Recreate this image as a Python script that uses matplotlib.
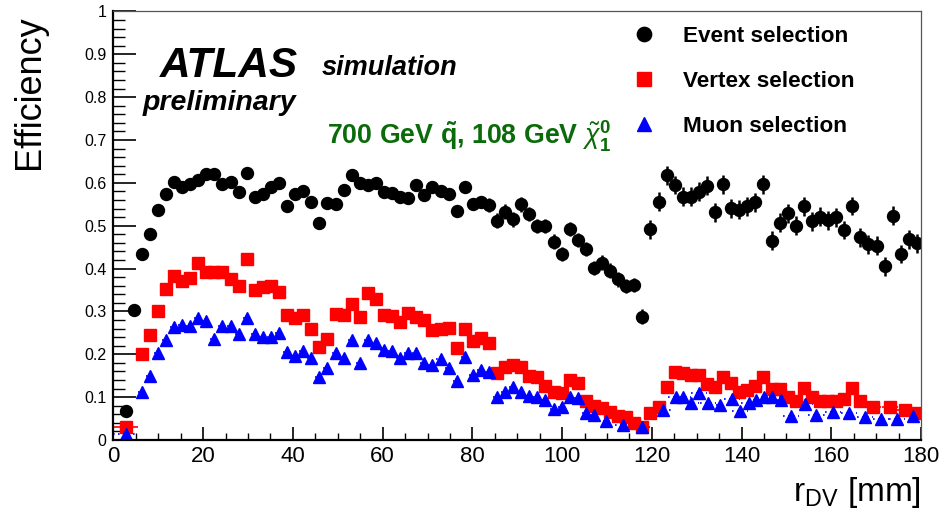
import numpy as np
import matplotlib.pyplot as plt
from matplotlib.ticker import MultipleLocator

plt.rcParams['font.family'] = ['Liberation Sans', 'DejaVu Sans']
plt.rcParams['mathtext.fontset'] = 'custom'
plt.rcParams['mathtext.rm'] = 'Liberation Sans'
plt.rcParams['mathtext.it'] = 'Liberation Sans:italic'
plt.rcParams['mathtext.bf'] = 'Liberation Sans:bold'

# 1.8 mm bins, the first bin (0-1.8 mm) is empty
r_bins = 0.9 + 1.8 * np.arange(1, 100)

eff_event = [0.068, 0.303, 0.434, 0.481, 0.537, 0.574, 0.601, 0.591, 0.597, 0.607,
             0.621, 0.621, 0.597, 0.603, 0.578, 0.624, 0.568, 0.573, 0.591, 0.599,
             0.547, 0.574, 0.582, 0.556, 0.506, 0.552, 0.551, 0.583, 0.618, 0.599,
             0.595, 0.600, 0.579, 0.576, 0.568, 0.564, 0.595, 0.572, 0.591, 0.582,
             0.574, 0.535, 0.591, 0.551, 0.556, 0.548, 0.512, 0.533, 0.515, 0.550,
             0.527, 0.499, 0.499, 0.463, 0.434, 0.492, 0.467, 0.446, 0.401, 0.414,
             0.395, 0.375, 0.359, 0.362, 0.288, 0.492, 0.556, 0.618, 0.595, 0.568,
             0.568, 0.579, 0.593, 0.531, 0.597, 0.541, 0.537, 0.545, 0.555, 0.597,
             0.465, 0.507, 0.529, 0.500, 0.545, 0.510, 0.521, 0.513, 0.520, 0.490,
             0.546, 0.473, 0.457, 0.453, 0.405, 0.523, 0.434, 0.468, 0.459]
# rough statistical errors (small in the dense region, larger at large radius)
err_event = [0.012] * 45 + [0.017] * 20 + [0.022] * 34

# vertex selection: first 92 bins, then merged bins at the end
eff_vertex = [0.031, np.nan, 0.201, 0.245, 0.301, 0.352, 0.383, 0.371, 0.379, 0.414,
              0.391, 0.393, 0.391, 0.375, 0.359, 0.422, 0.350, 0.356, 0.359, 0.346,
              0.292, 0.284, 0.292, 0.258, 0.218, 0.235, 0.294, 0.292, 0.317, 0.288,
              0.342, 0.328, 0.292, 0.290, 0.276, 0.296, 0.288, 0.280, 0.257, 0.258,
              0.261, 0.214, 0.258, 0.232, 0.237, 0.226, 0.157, 0.170, 0.175, 0.171,
              0.150, 0.148, 0.126, 0.111, 0.110, 0.141, 0.132, 0.090, 0.080, 0.075,
              0.066, 0.056, 0.054, 0.040, 0.031, 0.062, 0.076, 0.124, 0.159, 0.157,
              0.152, 0.152, 0.131, 0.124, 0.148, 0.132, 0.113, 0.117, 0.126, 0.148,
              0.118, 0.118, 0.101, 0.092, 0.121, 0.101, 0.092, 0.092, 0.092, 0.095,
              0.121, 0.092]
r_vertex_tail = [169.3, 173.1, 176.5, 179.4]
eff_vertex_tail = [0.078, 0.078, 0.070, 0.062]

# muon selection: first 59 bins, then coarser bins
eff_muon = [0.014, np.nan, 0.113, 0.150, 0.204, 0.233, 0.264, 0.268, 0.266, 0.284,
            0.278, 0.235, 0.266, 0.266, 0.247, 0.285, 0.247, 0.241, 0.241, 0.250,
            0.206, 0.196, 0.208, 0.191, 0.146, 0.167, 0.202, 0.191, 0.233, 0.180,
            0.233, 0.227, 0.210, 0.208, 0.191, 0.204, 0.202, 0.179, 0.175, 0.188,
            0.167, 0.138, 0.193, 0.152, 0.163, 0.159, 0.101, 0.113, 0.123, 0.112,
            0.103, 0.100, 0.093, 0.072, 0.078, 0.100, 0.097, 0.062, 0.058]
r_muon_tail = [109.8, 113.5, 117.9, 122.4, 125.3, 126.9, 128.8, 130.6, 132.5, 135.1,
               137.9, 139.7, 141.6, 143.2, 145.1, 146.9, 148.7, 151.1, 154.1, 156.7,
               160.3, 164.0, 167.6, 171.1, 174.7, 178.3]
eff_muon_tail = [0.045, 0.035, 0.030, 0.070, 0.101, 0.100, 0.087, 0.109, 0.086, 0.082,
                 0.095, 0.068, 0.086, 0.093, 0.100, 0.100, 0.093, 0.057, 0.084, 0.058,
                 0.066, 0.064, 0.053, 0.048, 0.048, 0.056]

x_ticks = [0, 20, 40, 60, 80, 100, 120, 140, 160, 180]
y_ticks = [0, 0.1, 0.2, 0.3, 0.4, 0.5, 0.6, 0.7, 0.8, 0.9, 1]

r_vertex = np.r_[r_bins[:len(eff_vertex)], r_vertex_tail]
y_vertex = np.r_[eff_vertex, eff_vertex_tail]
xerr_vertex = np.r_[2.7, [0.9] * (len(eff_vertex) - 1), [1.8] * len(r_vertex_tail)]

r_muon = np.r_[r_bins[:len(eff_muon)], r_muon_tail]
y_muon = np.r_[eff_muon, eff_muon_tail]
xerr_muon = np.r_[2.7, [0.9] * (len(eff_muon) - 1), [1.8] * len(r_muon_tail)]

fig = plt.figure(figsize=(9.41, 5.22), dpi=100)
ax = fig.add_axes([0.1206, 0.1571, 0.8581, 0.8209])

red = '#ff0000'
blue = '#0000ff'

# error bars
ax.errorbar(r_bins, eff_event, yerr=err_event, fmt='none', ecolor='black',
            elinewidth=1.8, capsize=0)
ax.errorbar(r_vertex, y_vertex, xerr=xerr_vertex, fmt='none', ecolor=red,
            elinewidth=1.2, capsize=0)
eb = ax.errorbar(r_muon, y_muon, xerr=xerr_muon, fmt='none', ecolor=blue,
                 elinewidth=1.2, capsize=0)
eb[2][0].set_linestyle((0, (1, 2)))

# markers
ax.plot(r_bins, eff_event, 'o', ms=8.6, color='black', label='Event selection')
ax.plot(r_vertex, y_vertex, 's', ms=8.4, color=red, label='Vertex selection')
ax.plot(r_muon, y_muon, '^', ms=8.6, color=blue, label='Muon selection')

ax.set_xlim(0, 180)
ax.set_ylim(0, 1)
ax.set_xticks(x_ticks)
ax.set_xticklabels([str(v) for v in x_ticks], fontsize=16)
ax.set_yticks(y_ticks)
ax.set_yticklabels(['%g' % v for v in y_ticks], fontsize=11.5)
ax.xaxis.set_minor_locator(MultipleLocator(5))
ax.yaxis.set_minor_locator(MultipleLocator(0.02))
ax.tick_params(axis='both', which='both', direction='in', top=False, right=False,
               color='black')
ax.tick_params(axis='y', which='major', length=16.5, width=1.2, pad=5)
ax.tick_params(axis='y', which='minor', length=8.6, width=1.0)
ax.tick_params(axis='x', which='major', length=9.4, width=1.2, pad=4)
ax.tick_params(axis='x', which='minor', length=5, width=1.0)

for side in ['left', 'bottom']:
    ax.spines[side].set_linewidth(1.6)
    ax.spines[side].set_color('black')
for side in ['top', 'right']:
    ax.spines[side].set_linewidth(0.9)
    ax.spines[side].set_color('#555555')

ax.set_ylabel('Efficiency', fontsize=26, loc='top')
ax.yaxis.set_label_coords(-0.082, 0.992)
ax.set_xlabel(r'r$_{\mathrm{DV}}$ [mm]', fontsize=24, loc='right')
ax.xaxis.set_label_coords(1.0, -0.082)

ax.text(0.0576, 0.847, 'ATLAS', transform=ax.transAxes, fontsize=30.5,
        fontweight='bold', fontstyle='italic', va='baseline')
ax.text(0.258, 0.852, 'simulation', transform=ax.transAxes, fontsize=19.5,
        fontweight='bold', fontstyle='italic', va='baseline')
ax.text(0.0365, 0.770, 'preliminary', transform=ax.transAxes, fontsize=20.5,
        fontweight='bold', fontstyle='italic', va='baseline')
ax.text(0.264, 0.690,
        r'700 GeV $\mathbf{\tilde{q}}$, 108 GeV $\tilde{\chi}^{\mathbf{0}}_{\mathbf{1}}$',
        transform=ax.transAxes, fontsize=19.3, fontweight='bold', color='#0a6b0a',
        va='baseline')

ax.legend(loc='upper left', bbox_to_anchor=(0.643, 0.967), frameon=False,
          prop={'weight': 'bold', 'size': 16.2}, handlelength=1.0, handletextpad=1.25,
          labelspacing=1.07, borderpad=0, borderaxespad=0, markerscale=1.2)

fig.savefig('out.png', dpi=100)
